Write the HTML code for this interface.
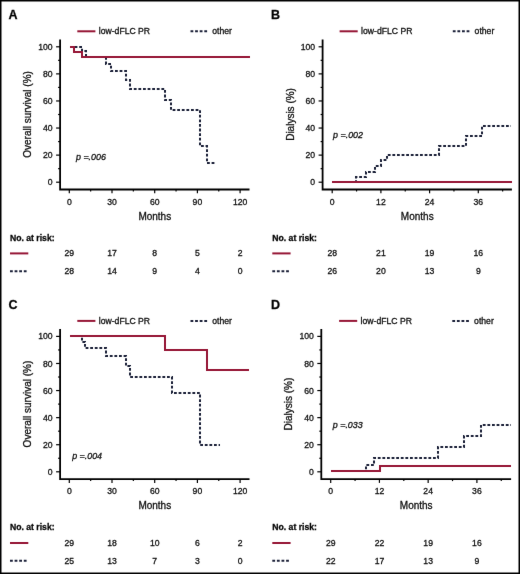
<!DOCTYPE html>
<html><head><meta charset="utf-8"><style>
html,body{margin:0;padding:0;background:#fff;}
svg{display:block;}
#w{will-change:transform;}
text{font-family:"Liberation Sans",sans-serif;stroke:#111;stroke-width:0.3px;}
</style></head><body>
<div id="w"><svg width="520" height="574" viewBox="0 0 520 574">
<defs><filter id="bl" x="0" y="0" width="520" height="574" filterUnits="userSpaceOnUse" color-interpolation-filters="sRGB"><feConvolveMatrix order="3" kernelMatrix="0.0028 0.0470 0.0028 0.0470 0.8008 0.0470 0.0028 0.0470 0.0028" edgeMode="duplicate"/></filter></defs>
<rect x="0" y="0" width="520" height="574" fill="#fff"/>
<g filter="url(#bl)">
<rect x="0.75" y="0.75" width="518.5" height="572.5" fill="none" stroke="#000" stroke-width="1.5"/>
<text x="8.6" y="19.2" font-size="12.5" font-weight="bold" fill="#000">A</text>
<line x1="77.3" y1="31.3" x2="95.4" y2="31.3" stroke="#961636" stroke-width="2"/>
<text x="98.8" y="34.4" font-size="8.65" fill="#111">low-dFLC PR</text>
<line x1="190.5" y1="31.3" x2="207.9" y2="31.3" stroke="#1b2038" stroke-width="2" stroke-dasharray="2.8 1.8"/>
<text x="212.3" y="34.4" font-size="8.65" fill="#111">other</text>
<path d="M60.1,39.4V189.5H249.5" fill="none" stroke="#000" stroke-width="1.8"/>
<line x1="56.1" y1="182.20" x2="60.1" y2="182.20" stroke="#000" stroke-width="1.2"/>
<text x="52.6" y="185.25" font-size="8.65" text-anchor="end" fill="#111">0</text>
<line x1="58.1" y1="168.66" x2="60.1" y2="168.66" stroke="#000" stroke-width="1.2"/>
<line x1="56.1" y1="155.12" x2="60.1" y2="155.12" stroke="#000" stroke-width="1.2"/>
<text x="52.6" y="158.17" font-size="8.65" text-anchor="end" fill="#111">20</text>
<line x1="58.1" y1="141.58" x2="60.1" y2="141.58" stroke="#000" stroke-width="1.2"/>
<line x1="56.1" y1="128.04" x2="60.1" y2="128.04" stroke="#000" stroke-width="1.2"/>
<text x="52.6" y="131.09" font-size="8.65" text-anchor="end" fill="#111">40</text>
<line x1="58.1" y1="114.50" x2="60.1" y2="114.50" stroke="#000" stroke-width="1.2"/>
<line x1="56.1" y1="100.96" x2="60.1" y2="100.96" stroke="#000" stroke-width="1.2"/>
<text x="52.6" y="104.01" font-size="8.65" text-anchor="end" fill="#111">60</text>
<line x1="58.1" y1="87.42" x2="60.1" y2="87.42" stroke="#000" stroke-width="1.2"/>
<line x1="56.1" y1="73.88" x2="60.1" y2="73.88" stroke="#000" stroke-width="1.2"/>
<text x="52.6" y="76.93" font-size="8.65" text-anchor="end" fill="#111">80</text>
<line x1="58.1" y1="60.34" x2="60.1" y2="60.34" stroke="#000" stroke-width="1.2"/>
<line x1="56.1" y1="46.80" x2="60.1" y2="46.80" stroke="#000" stroke-width="1.2"/>
<text x="52.6" y="49.85" font-size="8.65" text-anchor="end" fill="#111">100</text>
<line x1="69.30" y1="189.5" x2="69.30" y2="193.3" stroke="#000" stroke-width="1.2"/>
<text x="69.30" y="204.6" font-size="8.65" text-anchor="middle" fill="#111">0</text>
<line x1="112.00" y1="189.5" x2="112.00" y2="193.3" stroke="#000" stroke-width="1.2"/>
<text x="112.00" y="204.6" font-size="8.65" text-anchor="middle" fill="#111">30</text>
<line x1="154.70" y1="189.5" x2="154.70" y2="193.3" stroke="#000" stroke-width="1.2"/>
<text x="154.70" y="204.6" font-size="8.65" text-anchor="middle" fill="#111">60</text>
<line x1="197.40" y1="189.5" x2="197.40" y2="193.3" stroke="#000" stroke-width="1.2"/>
<text x="197.40" y="204.6" font-size="8.65" text-anchor="middle" fill="#111">90</text>
<line x1="240.10" y1="189.5" x2="240.10" y2="193.3" stroke="#000" stroke-width="1.2"/>
<text x="240.10" y="204.6" font-size="8.65" text-anchor="middle" fill="#111">120</text>
<line x1="90.65" y1="189.5" x2="90.65" y2="191.5" stroke="#000" stroke-width="1.2"/>
<line x1="133.35" y1="189.5" x2="133.35" y2="191.5" stroke="#000" stroke-width="1.2"/>
<line x1="176.05" y1="189.5" x2="176.05" y2="191.5" stroke="#000" stroke-width="1.2"/>
<line x1="218.75" y1="189.5" x2="218.75" y2="191.5" stroke="#000" stroke-width="1.2"/>
<text x="154.80" y="219.6" font-size="10" text-anchor="middle" fill="#111">Months</text>
<text transform="translate(31.2,114.45) rotate(-90)" font-size="10" text-anchor="middle" fill="#111">Overall survival (%)</text>
<text x="76" y="159.8" font-size="8.9" font-style="italic" fill="#111">p =.006</text>
<path d="M70.00,47.00H82.00V51.00H86.00V57.00H106.00V64.00H111.00V71.00H126.00V80.00H130.00V89.00H165.00V100.00H171.00V110.00H200.00V146.00H207.00V163.00H216.00" fill="none" stroke="#1b2038" stroke-width="2" stroke-dasharray="2.8 1.8"/>
<path d="M70.00,47.00H74.00V52.00H82.00V57.00H250.00" fill="none" stroke="#961636" stroke-width="2"/>
<text x="10" y="240.6" font-size="8.65" font-weight="bold" fill="#000">No. at risk:</text>
<line x1="10" y1="253.4" x2="28.3" y2="253.4" stroke="#961636" stroke-width="2"/>
<line x1="10" y1="271.2" x2="27.4" y2="271.2" stroke="#1b2038" stroke-width="2" stroke-dasharray="2.8 1.8"/>
<text x="69.30" y="256.30" font-size="8.65" text-anchor="middle" fill="#111">29</text>
<text x="69.30" y="274.10" font-size="8.65" text-anchor="middle" fill="#111">28</text>
<text x="112.00" y="256.30" font-size="8.65" text-anchor="middle" fill="#111">17</text>
<text x="112.00" y="274.10" font-size="8.65" text-anchor="middle" fill="#111">14</text>
<text x="154.70" y="256.30" font-size="8.65" text-anchor="middle" fill="#111">8</text>
<text x="154.70" y="274.10" font-size="8.65" text-anchor="middle" fill="#111">9</text>
<text x="197.40" y="256.30" font-size="8.65" text-anchor="middle" fill="#111">5</text>
<text x="197.40" y="274.10" font-size="8.65" text-anchor="middle" fill="#111">4</text>
<text x="240.10" y="256.30" font-size="8.65" text-anchor="middle" fill="#111">2</text>
<text x="240.10" y="274.10" font-size="8.65" text-anchor="middle" fill="#111">0</text>
<text x="270.90000000000003" y="19.2" font-size="12.5" font-weight="bold" fill="#000">B</text>
<line x1="339.6" y1="31.3" x2="357.70000000000005" y2="31.3" stroke="#961636" stroke-width="2"/>
<text x="361.1" y="34.4" font-size="8.65" fill="#111">low-dFLC PR</text>
<line x1="452.8" y1="31.3" x2="470.20000000000005" y2="31.3" stroke="#1b2038" stroke-width="2" stroke-dasharray="2.8 1.8"/>
<text x="474.6" y="34.4" font-size="8.65" fill="#111">other</text>
<path d="M322.6,39.4V189.5H511.9" fill="none" stroke="#000" stroke-width="1.8"/>
<line x1="318.6" y1="182.20" x2="322.6" y2="182.20" stroke="#000" stroke-width="1.2"/>
<text x="315.1" y="185.25" font-size="8.65" text-anchor="end" fill="#111">0</text>
<line x1="320.6" y1="168.66" x2="322.6" y2="168.66" stroke="#000" stroke-width="1.2"/>
<line x1="318.6" y1="155.12" x2="322.6" y2="155.12" stroke="#000" stroke-width="1.2"/>
<text x="315.1" y="158.17" font-size="8.65" text-anchor="end" fill="#111">20</text>
<line x1="320.6" y1="141.58" x2="322.6" y2="141.58" stroke="#000" stroke-width="1.2"/>
<line x1="318.6" y1="128.04" x2="322.6" y2="128.04" stroke="#000" stroke-width="1.2"/>
<text x="315.1" y="131.09" font-size="8.65" text-anchor="end" fill="#111">40</text>
<line x1="320.6" y1="114.50" x2="322.6" y2="114.50" stroke="#000" stroke-width="1.2"/>
<line x1="318.6" y1="100.96" x2="322.6" y2="100.96" stroke="#000" stroke-width="1.2"/>
<text x="315.1" y="104.01" font-size="8.65" text-anchor="end" fill="#111">60</text>
<line x1="320.6" y1="87.42" x2="322.6" y2="87.42" stroke="#000" stroke-width="1.2"/>
<line x1="318.6" y1="73.88" x2="322.6" y2="73.88" stroke="#000" stroke-width="1.2"/>
<text x="315.1" y="76.93" font-size="8.65" text-anchor="end" fill="#111">80</text>
<line x1="320.6" y1="60.34" x2="322.6" y2="60.34" stroke="#000" stroke-width="1.2"/>
<line x1="318.6" y1="46.80" x2="322.6" y2="46.80" stroke="#000" stroke-width="1.2"/>
<text x="315.1" y="49.85" font-size="8.65" text-anchor="end" fill="#111">100</text>
<line x1="332.20" y1="189.5" x2="332.20" y2="193.3" stroke="#000" stroke-width="1.2"/>
<text x="332.20" y="204.6" font-size="8.65" text-anchor="middle" fill="#111">0</text>
<line x1="380.90" y1="189.5" x2="380.90" y2="193.3" stroke="#000" stroke-width="1.2"/>
<text x="380.90" y="204.6" font-size="8.65" text-anchor="middle" fill="#111">12</text>
<line x1="429.59" y1="189.5" x2="429.59" y2="193.3" stroke="#000" stroke-width="1.2"/>
<text x="429.59" y="204.6" font-size="8.65" text-anchor="middle" fill="#111">24</text>
<line x1="478.29" y1="189.5" x2="478.29" y2="193.3" stroke="#000" stroke-width="1.2"/>
<text x="478.29" y="204.6" font-size="8.65" text-anchor="middle" fill="#111">36</text>
<line x1="356.55" y1="189.5" x2="356.55" y2="191.5" stroke="#000" stroke-width="1.2"/>
<line x1="405.24" y1="189.5" x2="405.24" y2="191.5" stroke="#000" stroke-width="1.2"/>
<line x1="453.94" y1="189.5" x2="453.94" y2="191.5" stroke="#000" stroke-width="1.2"/>
<line x1="502.64" y1="189.5" x2="502.64" y2="191.5" stroke="#000" stroke-width="1.2"/>
<text x="417.25" y="219.6" font-size="10" text-anchor="middle" fill="#111">Months</text>
<text transform="translate(293.6,114.45) rotate(-90)" font-size="10" text-anchor="middle" fill="#111">Dialysis (%)</text>
<text x="333.1" y="138.1" font-size="8.9" font-style="italic" fill="#111">p =.002</text>
<path d="M332.00,182.00H356.00V177.00H366.00V172.00H375.00V166.00H381.00V160.00H387.00V155.00H439.00V146.00H466.00V136.00H482.00V126.00H511.00" fill="none" stroke="#1b2038" stroke-width="2" stroke-dasharray="2.8 1.8"/>
<path d="M332.00,182.00H512.00" fill="none" stroke="#961636" stroke-width="2"/>
<text x="272.3" y="240.6" font-size="8.65" font-weight="bold" fill="#000">No. at risk:</text>
<line x1="272.3" y1="253.4" x2="290.6" y2="253.4" stroke="#961636" stroke-width="2"/>
<line x1="272.3" y1="271.2" x2="289.7" y2="271.2" stroke="#1b2038" stroke-width="2" stroke-dasharray="2.8 1.8"/>
<text x="332.20" y="256.30" font-size="8.65" text-anchor="middle" fill="#111">28</text>
<text x="332.20" y="274.10" font-size="8.65" text-anchor="middle" fill="#111">26</text>
<text x="380.90" y="256.30" font-size="8.65" text-anchor="middle" fill="#111">21</text>
<text x="380.90" y="274.10" font-size="8.65" text-anchor="middle" fill="#111">20</text>
<text x="429.59" y="256.30" font-size="8.65" text-anchor="middle" fill="#111">19</text>
<text x="429.59" y="274.10" font-size="8.65" text-anchor="middle" fill="#111">13</text>
<text x="478.29" y="256.30" font-size="8.65" text-anchor="middle" fill="#111">16</text>
<text x="478.29" y="274.10" font-size="8.65" text-anchor="middle" fill="#111">9</text>
<text x="8.6" y="308.8" font-size="12.5" font-weight="bold" fill="#000">C</text>
<line x1="77.3" y1="320.90000000000003" x2="95.4" y2="320.90000000000003" stroke="#961636" stroke-width="2"/>
<text x="98.8" y="324.00000000000006" font-size="8.65" fill="#111">low-dFLC PR</text>
<line x1="190.5" y1="320.90000000000003" x2="207.9" y2="320.90000000000003" stroke="#1b2038" stroke-width="2" stroke-dasharray="2.8 1.8"/>
<text x="212.3" y="324.00000000000006" font-size="8.65" fill="#111">other</text>
<path d="M60.1,329.0V479.1H249.5" fill="none" stroke="#000" stroke-width="1.8"/>
<line x1="56.1" y1="471.80" x2="60.1" y2="471.80" stroke="#000" stroke-width="1.2"/>
<text x="52.6" y="474.85" font-size="8.65" text-anchor="end" fill="#111">0</text>
<line x1="58.1" y1="458.26" x2="60.1" y2="458.26" stroke="#000" stroke-width="1.2"/>
<line x1="56.1" y1="444.72" x2="60.1" y2="444.72" stroke="#000" stroke-width="1.2"/>
<text x="52.6" y="447.77" font-size="8.65" text-anchor="end" fill="#111">20</text>
<line x1="58.1" y1="431.18" x2="60.1" y2="431.18" stroke="#000" stroke-width="1.2"/>
<line x1="56.1" y1="417.64" x2="60.1" y2="417.64" stroke="#000" stroke-width="1.2"/>
<text x="52.6" y="420.69" font-size="8.65" text-anchor="end" fill="#111">40</text>
<line x1="58.1" y1="404.10" x2="60.1" y2="404.10" stroke="#000" stroke-width="1.2"/>
<line x1="56.1" y1="390.56" x2="60.1" y2="390.56" stroke="#000" stroke-width="1.2"/>
<text x="52.6" y="393.61" font-size="8.65" text-anchor="end" fill="#111">60</text>
<line x1="58.1" y1="377.02" x2="60.1" y2="377.02" stroke="#000" stroke-width="1.2"/>
<line x1="56.1" y1="363.48" x2="60.1" y2="363.48" stroke="#000" stroke-width="1.2"/>
<text x="52.6" y="366.53" font-size="8.65" text-anchor="end" fill="#111">80</text>
<line x1="58.1" y1="349.94" x2="60.1" y2="349.94" stroke="#000" stroke-width="1.2"/>
<line x1="56.1" y1="336.40" x2="60.1" y2="336.40" stroke="#000" stroke-width="1.2"/>
<text x="52.6" y="339.45" font-size="8.65" text-anchor="end" fill="#111">100</text>
<line x1="69.30" y1="479.1" x2="69.30" y2="482.90000000000003" stroke="#000" stroke-width="1.2"/>
<text x="69.30" y="494.20000000000005" font-size="8.65" text-anchor="middle" fill="#111">0</text>
<line x1="112.00" y1="479.1" x2="112.00" y2="482.90000000000003" stroke="#000" stroke-width="1.2"/>
<text x="112.00" y="494.20000000000005" font-size="8.65" text-anchor="middle" fill="#111">30</text>
<line x1="154.70" y1="479.1" x2="154.70" y2="482.90000000000003" stroke="#000" stroke-width="1.2"/>
<text x="154.70" y="494.20000000000005" font-size="8.65" text-anchor="middle" fill="#111">60</text>
<line x1="197.40" y1="479.1" x2="197.40" y2="482.90000000000003" stroke="#000" stroke-width="1.2"/>
<text x="197.40" y="494.20000000000005" font-size="8.65" text-anchor="middle" fill="#111">90</text>
<line x1="240.10" y1="479.1" x2="240.10" y2="482.90000000000003" stroke="#000" stroke-width="1.2"/>
<text x="240.10" y="494.20000000000005" font-size="8.65" text-anchor="middle" fill="#111">120</text>
<line x1="90.65" y1="479.1" x2="90.65" y2="481.1" stroke="#000" stroke-width="1.2"/>
<line x1="133.35" y1="479.1" x2="133.35" y2="481.1" stroke="#000" stroke-width="1.2"/>
<line x1="176.05" y1="479.1" x2="176.05" y2="481.1" stroke="#000" stroke-width="1.2"/>
<line x1="218.75" y1="479.1" x2="218.75" y2="481.1" stroke="#000" stroke-width="1.2"/>
<text x="154.80" y="509.20000000000005" font-size="10" text-anchor="middle" fill="#111">Months</text>
<text transform="translate(31.2,404.05) rotate(-90)" font-size="10" text-anchor="middle" fill="#111">Overall survival (%)</text>
<text x="72.2" y="458.8" font-size="8.9" font-style="italic" fill="#111">p =.004</text>
<path d="M70.00,336.00H82.00V342.00H85.00V348.00H106.00V356.00H126.00V366.00H130.00V377.00H172.00V393.00H200.00V445.00H220.00" fill="none" stroke="#1b2038" stroke-width="2" stroke-dasharray="2.8 1.8"/>
<path d="M70.00,336.00H165.00V350.00H207.00V370.00H249.00" fill="none" stroke="#961636" stroke-width="2"/>
<text x="10" y="530.2" font-size="8.65" font-weight="bold" fill="#000">No. at risk:</text>
<line x1="10" y1="543.0" x2="28.3" y2="543.0" stroke="#961636" stroke-width="2"/>
<line x1="10" y1="560.8" x2="27.4" y2="560.8" stroke="#1b2038" stroke-width="2" stroke-dasharray="2.8 1.8"/>
<text x="69.30" y="545.90" font-size="8.65" text-anchor="middle" fill="#111">29</text>
<text x="69.30" y="563.70" font-size="8.65" text-anchor="middle" fill="#111">25</text>
<text x="112.00" y="545.90" font-size="8.65" text-anchor="middle" fill="#111">18</text>
<text x="112.00" y="563.70" font-size="8.65" text-anchor="middle" fill="#111">13</text>
<text x="154.70" y="545.90" font-size="8.65" text-anchor="middle" fill="#111">10</text>
<text x="154.70" y="563.70" font-size="8.65" text-anchor="middle" fill="#111">7</text>
<text x="197.40" y="545.90" font-size="8.65" text-anchor="middle" fill="#111">6</text>
<text x="197.40" y="563.70" font-size="8.65" text-anchor="middle" fill="#111">3</text>
<text x="240.10" y="545.90" font-size="8.65" text-anchor="middle" fill="#111">2</text>
<text x="240.10" y="563.70" font-size="8.65" text-anchor="middle" fill="#111">0</text>
<text x="270.90000000000003" y="308.8" font-size="12.5" font-weight="bold" fill="#000">D</text>
<line x1="339.1" y1="320.90000000000003" x2="357.20000000000005" y2="320.90000000000003" stroke="#961636" stroke-width="2"/>
<text x="360.6" y="324.00000000000006" font-size="8.65" fill="#111">low-dFLC PR</text>
<line x1="452.3" y1="320.90000000000003" x2="469.70000000000005" y2="320.90000000000003" stroke="#1b2038" stroke-width="2" stroke-dasharray="2.8 1.8"/>
<text x="474.1" y="324.00000000000006" font-size="8.65" fill="#111">other</text>
<path d="M321.3,329.0V479.1H511.1" fill="none" stroke="#000" stroke-width="1.8"/>
<line x1="317.3" y1="471.80" x2="321.3" y2="471.80" stroke="#000" stroke-width="1.2"/>
<text x="313.8" y="474.85" font-size="8.65" text-anchor="end" fill="#111">0</text>
<line x1="319.3" y1="458.26" x2="321.3" y2="458.26" stroke="#000" stroke-width="1.2"/>
<line x1="317.3" y1="444.72" x2="321.3" y2="444.72" stroke="#000" stroke-width="1.2"/>
<text x="313.8" y="447.77" font-size="8.65" text-anchor="end" fill="#111">20</text>
<line x1="319.3" y1="431.18" x2="321.3" y2="431.18" stroke="#000" stroke-width="1.2"/>
<line x1="317.3" y1="417.64" x2="321.3" y2="417.64" stroke="#000" stroke-width="1.2"/>
<text x="313.8" y="420.69" font-size="8.65" text-anchor="end" fill="#111">40</text>
<line x1="319.3" y1="404.10" x2="321.3" y2="404.10" stroke="#000" stroke-width="1.2"/>
<line x1="317.3" y1="390.56" x2="321.3" y2="390.56" stroke="#000" stroke-width="1.2"/>
<text x="313.8" y="393.61" font-size="8.65" text-anchor="end" fill="#111">60</text>
<line x1="319.3" y1="377.02" x2="321.3" y2="377.02" stroke="#000" stroke-width="1.2"/>
<line x1="317.3" y1="363.48" x2="321.3" y2="363.48" stroke="#000" stroke-width="1.2"/>
<text x="313.8" y="366.53" font-size="8.65" text-anchor="end" fill="#111">80</text>
<line x1="319.3" y1="349.94" x2="321.3" y2="349.94" stroke="#000" stroke-width="1.2"/>
<line x1="317.3" y1="336.40" x2="321.3" y2="336.40" stroke="#000" stroke-width="1.2"/>
<text x="313.8" y="339.45" font-size="8.65" text-anchor="end" fill="#111">100</text>
<line x1="330.70" y1="479.1" x2="330.70" y2="482.90000000000003" stroke="#000" stroke-width="1.2"/>
<text x="330.70" y="494.20000000000005" font-size="8.65" text-anchor="middle" fill="#111">0</text>
<line x1="379.43" y1="479.1" x2="379.43" y2="482.90000000000003" stroke="#000" stroke-width="1.2"/>
<text x="379.43" y="494.20000000000005" font-size="8.65" text-anchor="middle" fill="#111">12</text>
<line x1="428.16" y1="479.1" x2="428.16" y2="482.90000000000003" stroke="#000" stroke-width="1.2"/>
<text x="428.16" y="494.20000000000005" font-size="8.65" text-anchor="middle" fill="#111">24</text>
<line x1="476.90" y1="479.1" x2="476.90" y2="482.90000000000003" stroke="#000" stroke-width="1.2"/>
<text x="476.90" y="494.20000000000005" font-size="8.65" text-anchor="middle" fill="#111">36</text>
<line x1="355.07" y1="479.1" x2="355.07" y2="481.1" stroke="#000" stroke-width="1.2"/>
<line x1="403.80" y1="479.1" x2="403.80" y2="481.1" stroke="#000" stroke-width="1.2"/>
<line x1="452.53" y1="479.1" x2="452.53" y2="481.1" stroke="#000" stroke-width="1.2"/>
<line x1="501.26" y1="479.1" x2="501.26" y2="481.1" stroke="#000" stroke-width="1.2"/>
<text x="416.20" y="509.20000000000005" font-size="10" text-anchor="middle" fill="#111">Months</text>
<text transform="translate(292.4,404.05) rotate(-90)" font-size="10" text-anchor="middle" fill="#111">Dialysis (%)</text>
<text x="332.8" y="428.1" font-size="8.9" font-style="italic" fill="#111">p =.033</text>
<path d="M331.00,471.00H366.00V465.00H374.00V458.00H438.00V447.00H464.00V436.00H481.00V425.00H511.00" fill="none" stroke="#1b2038" stroke-width="2" stroke-dasharray="2.8 1.8"/>
<path d="M331.00,471.00H380.00V466.00H511.00" fill="none" stroke="#961636" stroke-width="2"/>
<text x="272.3" y="530.2" font-size="8.65" font-weight="bold" fill="#000">No. at risk:</text>
<line x1="272.3" y1="543.0" x2="290.6" y2="543.0" stroke="#961636" stroke-width="2"/>
<line x1="272.3" y1="560.8" x2="289.7" y2="560.8" stroke="#1b2038" stroke-width="2" stroke-dasharray="2.8 1.8"/>
<text x="330.70" y="545.90" font-size="8.65" text-anchor="middle" fill="#111">29</text>
<text x="330.70" y="563.70" font-size="8.65" text-anchor="middle" fill="#111">22</text>
<text x="379.43" y="545.90" font-size="8.65" text-anchor="middle" fill="#111">22</text>
<text x="379.43" y="563.70" font-size="8.65" text-anchor="middle" fill="#111">17</text>
<text x="428.16" y="545.90" font-size="8.65" text-anchor="middle" fill="#111">19</text>
<text x="428.16" y="563.70" font-size="8.65" text-anchor="middle" fill="#111">13</text>
<text x="476.90" y="545.90" font-size="8.65" text-anchor="middle" fill="#111">16</text>
<text x="476.90" y="563.70" font-size="8.65" text-anchor="middle" fill="#111">9</text>
</g>
</svg></div>
</body></html>
